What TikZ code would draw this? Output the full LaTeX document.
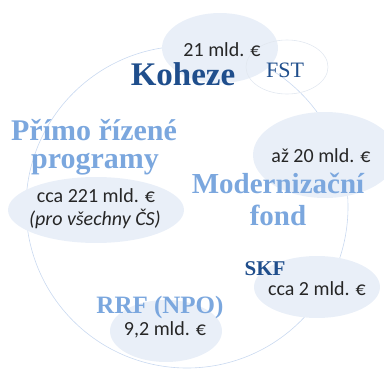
\documentclass[tikz,border=0pt]{standalone}
\usepackage{fontspec}
\setmainfont{Liberation Serif}
\newfontfamily\sansf{Carlito}
\definecolor{darkb}{HTML}{1F4E8C}
\definecolor{lightb}{HTML}{7BA7DE}
\definecolor{blob}{HTML}{E9EFF8}
\definecolor{ringc}{HTML}{C9D9F0}
\definecolor{fstring}{HTML}{E2E8F0}
\definecolor{numgray}{HTML}{262626}
\tikzset{
  num/.style={font=\sansf\fontsize{20}{23}\selectfont, text=numgray, inner sep=0pt, anchor=base},
  headdark/.style={font=\bfseries, text=darkb, inner sep=0pt, anchor=base},
  headlight/.style={font=\bfseries, text=lightb, inner sep=0pt, anchor=base},
  blobfill/.style={fill=blob},
}
\begin{document}
\begin{tikzpicture}[x=1pt,y=-1pt]
\useasboundingbox (0,0) rectangle (384,370);
% big ring
\draw[ringc, line width=0.6pt] (187,207) circle [radius=161];
% blobs
\fill[blobfill] (220,48) ellipse [x radius=58, y radius=35];
\fill[blobfill] (325,155) ellipse [x radius=72, y radius=43];
\fill[blobfill] (96,210) ellipse [x radius=88, y radius=33];
\fill[blobfill] (317,287) ellipse [x radius=63, y radius=31];
\fill[blobfill] (166,331) ellipse [x radius=56, y radius=31];
\draw[fstring, line width=0.6pt] (287,67) ellipse [x radius=41, y radius=27];
% texts
\node[num] (k1) at (222,56) {21 mld. €};
\node[headdark, font=\bfseries\fontsize{33}{36}\selectfont] (koh) at (183,85) {Koheze};
\node[inner sep=0pt, anchor=base, text=darkb, font=\fontsize{22}{25}\selectfont] (fst) at (285,77) {FST};
\node[headlight, font=\bfseries\fontsize{30}{33}\selectfont] (pr1) at (94,140) {Přímo řízené};
\node[headlight, font=\bfseries\fontsize{30}{33}\selectfont] (pr2) at (95,168) {programy};
\node[num] (pn1) at (96,202) {cca 221 mld. €};
\node[num, font=\sansf\itshape\fontsize{20}{23}\selectfont] (pn2) at (95,225) {(pro všechny ČS)};
\node[num] (mn) at (321,162) {až 20 mld. €};
\node[headlight, font=\bfseries\fontsize{29}{32}\selectfont] (mf1) at (278,193) {Modernizační};
\node[headlight, font=\bfseries\fontsize{29}{32}\selectfont] (mf2) at (278,225) {fond};
\node[headdark, font=\bfseries\fontsize{21}{24}\selectfont] (skf) at (265,275) {SKF};
\node[num] (sn) at (317,295) {cca 2 mld. €};
\node[headlight, font=\bfseries\fontsize{25}{28}\selectfont] (rrf) at (160,313) {RRF (NPO)};
\node[num] (rn) at (165,335) {9,2 mld. €};
\end{tikzpicture}
\end{document}
